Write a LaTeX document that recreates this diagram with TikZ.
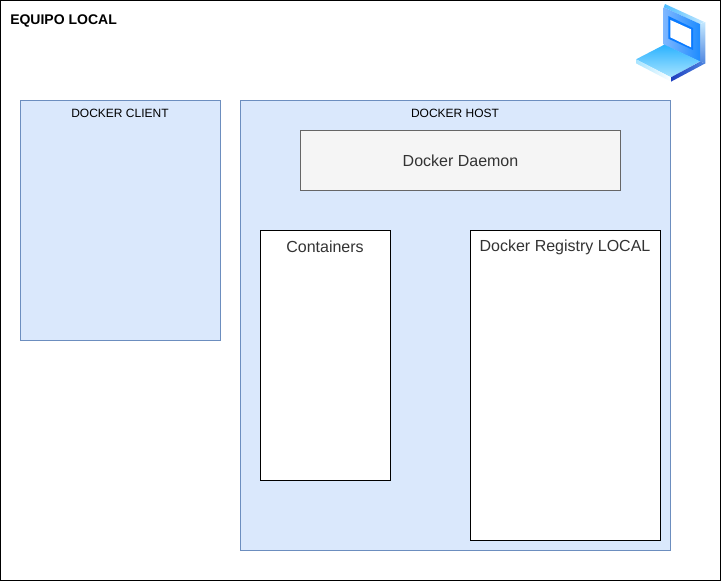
\documentclass[tikz,border=0pt]{standalone}
\usepackage{fontspec}
\setmainfont{Liberation Sans}
\definecolor{hostfill}{HTML}{DAE8FC}
\definecolor{hostline}{HTML}{6C8EBF}
\definecolor{daemonfill}{HTML}{F5F5F5}
\definecolor{daemonline}{HTML}{666666}
\definecolor{daemontext}{HTML}{333333}
\definecolor{lapA}{HTML}{4FBEFF}
\definecolor{lapB}{HTML}{C4E8FF}
\definecolor{lapC}{HTML}{7DB6FF}
\definecolor{lapD}{HTML}{1E8CFF}
\definecolor{lapE}{HTML}{0A7BFF}
\definecolor{lapF}{HTML}{2BB2FF}
\definecolor{lapG}{HTML}{A8E4FF}
\definecolor{lapH}{HTML}{1E3FBF}
\definecolor{lapI}{HTML}{4F86E0}
\begin{document}
\begin{tikzpicture}[
  x=0.75pt, y=-0.75pt,
  panel/.style={rectangle, draw, line width=0.75pt, anchor=north west, inner sep=0pt, outer sep=0pt},
  hostbox/.style={panel, draw=hostline, fill=hostfill},
  whitebox/.style={panel, draw=black, fill=white},
  smalltext/.style={font=\fontsize{9}{11}\selectfont, inner sep=0pt},
  bigtext/.style={font=\fontsize{12}{14}\selectfont, inner sep=0pt}
]
\useasboundingbox (0,0) rectangle (721,581);

% Outer frame
\node (equipo) at (0.5,0.5) [panel, draw=black, minimum width=720*0.75pt, minimum height=580*0.75pt] {};
\node (equipo-label) at (10,20.5) [anchor=west, inner sep=0pt, font=\fontsize{10.5}{12}\selectfont\bfseries] {EQUIPO LOCAL};

% Client
\node (client) at (20.5,100.5) [hostbox, minimum width=200*0.75pt, minimum height=240*0.75pt] {};
\node (client-label) at (120,113.5) [smalltext] {DOCKER CLIENT};

% Host
\node (host) at (240.5,100.5) [hostbox, minimum width=430*0.75pt, minimum height=450*0.75pt] {};
\node (host-label) at (455,113.5) [smalltext] {DOCKER HOST};
\node (daemon) at (300.5,130.5) [panel, draw=daemonline, fill=daemonfill, minimum width=320*0.75pt, minimum height=60*0.75pt] {};
\node (daemon-label) at (460.5,161) [bigtext, text=daemontext] {Docker Daemon};
\node (containers) at (260.5,230.5) [whitebox, minimum width=130*0.75pt, minimum height=250*0.75pt] {};
\node (containers-label) at (325,247) [bigtext, text=daemontext] {Containers};
\node (registry) at (470.5,230.5) [whitebox, minimum width=190*0.75pt, minimum height=310*0.75pt] {};
\node (registry-label) at (565,247) [bigtext, text=daemontext] {Docker Registry LOCAL};

% Laptop icon
\begin{scope}[shift={(621,0)}, x=0.25pt, y=-0.25pt]
  \shade[left color=lapA, right color=lapB] (132,12) -- (250,66) -- (237,72) -- (128,22) -- cycle;
  \shade[top color=lapB, bottom color=lapI] (237,72) -- (253,66) -- (253,190) -- (237,185) -- cycle;
  \shade[left color=lapC, right color=lapD] (128,22) -- (237,72) -- (237,185) -- (128,134) -- cycle;
  \fill[lapE] (142,48) -- (216,84) -- (216,150) -- (142,116) -- cycle;
  \fill[white] (148,60) -- (210,88) -- (210,142) -- (148,112) -- cycle;
  \shade[top color=lapF, bottom color=lapG] (130,134) -- (237,184) -- (150,232) -- (45,178) -- cycle;
  \shade[left color=lapG, right color=white] (45,178) -- (150,232) -- (150,245) -- (45,190) -- cycle;
  \shade[left color=lapH, right color=lapI] (150,232) -- (237,185) -- (253,190) -- (150,245) -- cycle;
\end{scope}
\end{tikzpicture}
\end{document}
